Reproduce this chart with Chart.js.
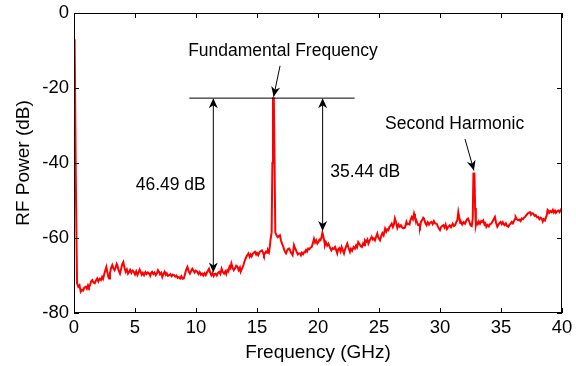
<!DOCTYPE html>
<html>
<head>
<meta charset="utf-8">
<script src="https://cdn.jsdelivr.net/npm/chart.js@4/dist/chart.umd.min.js"></script>
<style>
  html, body { margin: 0; padding: 0; background: #fff; }
  #wrap { width: 576px; height: 366px; }
</style>
</head>
<body>
<div id="wrap"><canvas id="specChart" width="576" height="366"></canvas></div>
<script>
/* ---- spectrum data ---- */
const freqGHz = [
  0.05, 0.15, 0.25, 0.35, 0.45, 0.55, 0.65, 0.75, 0.85, 0.96,
  1.05, 1.15, 1.22, 1.31, 1.4, 1.5, 1.6, 1.7, 1.8, 1.9,
  2.0, 2.1, 2.2, 2.3, 2.38, 2.46, 2.55, 2.65, 2.72, 2.8,
  2.87, 2.95, 3.05, 3.14, 3.23, 3.33, 3.42, 3.5, 3.55, 3.65,
  3.77, 3.86, 3.95, 4.04, 4.12, 4.23, 4.33, 4.42, 4.5, 4.6,
  4.7, 4.8, 4.9, 5.0, 5.1, 5.2, 5.3, 5.38, 5.46, 5.55,
  5.64, 5.74, 5.85, 5.95, 6.05, 6.15, 6.25, 6.32, 6.4, 6.5,
  6.6, 6.7, 6.8, 6.88, 6.97, 7.05, 7.15, 7.24, 7.33, 7.43,
  7.52, 7.6, 7.7, 7.8, 7.9, 8.0, 8.1, 8.2, 8.3, 8.4,
  8.5, 8.6, 8.7, 8.8, 8.9, 9.0, 9.1, 9.2, 9.3, 9.4,
  9.5, 9.6, 9.7, 9.78, 9.88, 9.98, 10.1, 10.2, 10.3, 10.4,
  10.5, 10.6, 10.7, 10.8, 10.9, 11.0, 11.07, 11.17, 11.26, 11.35,
  11.45, 11.52, 11.6, 11.7, 11.8, 11.9, 12.0, 12.1, 12.2, 12.3,
  12.4, 12.48, 12.57, 12.65, 12.75, 12.83, 12.9, 13.0, 13.1, 13.2,
  13.3, 13.4, 13.5, 13.6, 13.66, 13.75, 13.85, 14.0, 14.1, 14.2,
  14.3, 14.4, 14.48, 14.56, 14.65, 14.75, 14.84, 14.93, 15.0, 15.1,
  15.2, 15.3, 15.4, 15.5, 15.57, 15.65, 15.75, 15.83, 15.9, 15.98,
  16.05, 16.12, 16.2, 16.26, 16.31, 16.38, 16.44, 16.5, 16.6, 16.7,
  16.8, 16.88, 16.96, 17.05, 17.16, 17.25, 17.32, 17.38, 17.47, 17.56,
  17.65, 17.75, 17.84, 17.92, 18.03, 18.13, 18.25, 18.35, 18.43, 18.52,
  18.6, 18.68, 18.78, 18.86, 18.93, 19.02, 19.1, 19.2, 19.3, 19.38,
  19.48, 19.57, 19.67, 19.76, 19.85, 19.95, 20.05, 20.12, 20.2, 20.28,
  20.36, 20.44, 20.5, 20.57, 20.65, 20.75, 20.85, 20.95, 21.03, 21.1,
  21.2, 21.3, 21.4, 21.5, 21.58, 21.66, 21.75, 21.85, 21.94, 22.03,
  22.13, 22.22, 22.3, 22.4, 22.5, 22.62, 22.7, 22.8, 22.92, 23.03,
  23.12, 23.2, 23.3, 23.4, 23.5, 23.6, 23.7, 23.78, 23.85, 23.95,
  24.05, 24.13, 24.22, 24.32, 24.4, 24.5, 24.58, 24.67, 24.77, 24.86,
  24.95, 25.08, 25.18, 25.28, 25.38, 25.5, 25.6, 25.68, 25.77, 25.86,
  25.95, 26.04, 26.14, 26.22, 26.3, 26.4, 26.5, 26.6, 26.7, 26.8,
  26.9, 27.0, 27.13, 27.25, 27.32, 27.4, 27.5, 27.58, 27.68, 27.78,
  27.87, 27.95, 28.03, 28.1, 28.2, 28.28, 28.36, 28.45, 28.55, 28.63,
  28.69, 28.8, 28.9, 29.0, 29.1, 29.2, 29.3, 29.4, 29.5, 29.6,
  29.73, 29.82, 29.9, 30.0, 30.1, 30.18, 30.27, 30.37, 30.46, 30.57,
  30.68, 30.8, 30.9, 31.04, 31.14, 31.23, 31.32, 31.42, 31.5, 31.58,
  31.66, 31.72, 31.82, 31.93, 32.05, 32.15, 32.22, 32.3, 32.4, 32.5,
  32.6, 32.68, 32.74, 32.82, 32.88, 32.94, 33.0, 33.1, 33.18, 33.28,
  33.38, 33.46, 33.55, 33.65, 33.72, 33.8, 33.9, 34.0, 34.1, 34.2,
  34.3, 34.4, 34.5, 34.6, 34.7, 34.8, 34.88, 34.97, 35.06, 35.15,
  35.23, 35.3, 35.4, 35.5, 35.6, 35.7, 35.78, 35.87, 35.97, 36.07,
  36.15, 36.2, 36.3, 36.4, 36.5, 36.6, 36.69, 36.8, 36.88, 36.96,
  37.05, 37.15, 37.25, 37.37, 37.46, 37.55, 37.65, 37.75, 37.85, 37.95,
  38.05, 38.15, 38.25, 38.33, 38.42, 38.5, 38.6, 38.68, 38.75, 38.82,
  38.88, 38.95, 39.05, 39.15, 39.25, 39.33, 39.42, 39.5, 39.6, 39.7,
  39.8, 39.9, 39.97
];
const powerDb = [
  -7, -45, -72.1, -73.0, -72.6, -74.3, -73.8, -74.0, -73.2, -73.0,
  -73.5, -72.6, -73.1, -72.6, -71.6, -71.2, -71.9, -72.1, -71.3, -70.8,
  -71.6, -70.9, -71.2, -70.4, -70.9, -69.9, -68.8, -67.7, -68.9, -70.2,
  -70.8, -69.3, -67.9, -67.2, -68.1, -68.6, -67.8, -66.9, -67.2, -68.6,
  -69.5, -68.3, -67.0, -66.4, -67.7, -69.0, -68.4, -69.5, -69.1, -68.5,
  -69.3, -68.7, -69.0, -69.7, -68.9, -69.9, -69.2, -68.4, -69.0, -69.8,
  -69.3, -69.9, -69.1, -69.6, -69.2, -69.5, -70.1, -69.3, -69.0, -69.6,
  -69.2, -69.9, -69.4, -68.6, -69.0, -69.7, -69.3, -70.4, -69.6, -69.0,
  -69.8, -69.4, -70.1, -69.9, -69.6, -70.2, -69.8, -69.9, -70.3, -70.0,
  -70.6, -70.4, -70.8, -70.2, -70.9, -70.8, -69.6, -68.4, -67.7, -68.9,
  -69.5, -68.8, -68.2, -68.6, -69.2, -68.7, -69.0, -69.6, -69.1, -69.8,
  -69.5, -70.0, -69.4, -69.9, -69.2, -68.6, -68.2, -69.3, -69.9, -69.3,
  -70.1, -69.6, -69.5, -70.0, -69.3, -69.0, -69.6, -68.2, -69.1, -69.5,
  -68.9, -69.6, -68.6, -68.9, -67.6, -68.0, -66.8, -67.9, -68.6, -68.1,
  -67.4, -67.7, -68.6, -67.9, -69.0, -68.3, -67.6, -66.0, -65.2, -64.6,
  -64.1, -65.0, -64.4, -64.9, -64.2, -63.9, -63.7, -64.4, -64.0, -64.6,
  -63.8, -63.5, -63.3, -63.9, -64.6, -64.1, -63.6, -63.9, -63.3, -63.8,
  -62.3, -60.2, -58.5, -40, -22.7, -22.7, -40, -58.5, -59.3, -59.8,
  -59.5, -59.3, -60.6, -61.5, -62.4, -63.3, -63.8, -64.1, -63.3, -62.9,
  -62.8, -63.7, -64.2, -64.6, -61.9, -62.8, -63.7, -64.4, -64.1, -64.1,
  -64.6, -63.9, -64.3, -63.8, -63.7, -63.2, -63.6, -62.8, -63.0, -62.6,
  -62.4, -61.5, -60.2, -61.2, -60.6, -61.5, -61.0, -60.4, -60.6, -59.9,
  -58.6, -59.6, -60.6, -61.9, -61.2, -62.0, -61.5, -62.3, -62.9, -63.3,
  -62.7, -62.9, -62.4, -63.3, -64.1, -63.0, -62.7, -63.6, -62.4, -63.2,
  -64.1, -63.0, -62.3, -61.5, -62.6, -63.7, -62.9, -63.4, -62.4, -62.8,
  -62.0, -62.5, -61.1, -61.6, -62.2, -62.4, -61.4, -61.9, -60.6, -61.0,
  -60.4, -61.5, -60.8, -60.2, -59.7, -60.4, -60.1, -60.6, -59.6, -58.8,
  -59.9, -60.6, -59.5, -58.7, -59.3, -57.5, -58.3, -57.7, -57.9, -57.0,
  -56.7, -56.2, -57.1, -56.4, -54.8, -55.9, -57.3, -56.4, -57.0, -56.6,
  -57.2, -57.4, -57.2, -55.7, -56.3, -56.2, -56.4, -55.2, -54.4, -55.0,
  -53.5, -54.6, -55.0, -55.7, -56.5, -56.4, -57.0, -55.6, -55.2, -54.6,
  -54.8, -56.0, -56.6, -55.8, -56.4, -55.9, -55.7, -56.3, -55.5, -56.1,
  -56.2, -56.9, -57.4, -57.9, -57.0, -56.8, -56.6, -57.2, -56.4, -57.6,
  -57.0, -56.6, -57.1, -56.2, -56.8, -56.6, -55.9, -55.2, -53.1, -54.6,
  -56.0, -55.7, -56.4, -55.8, -56.2, -55.4, -55.0, -54.8, -55.6, -56.6,
  -56.8, -55.0, -42.8, -42.8, -52, -56.6, -55.7, -56.3, -55.6, -56.2,
  -55.5, -55.7, -55.3, -56.4, -56.1, -57.0, -56.5, -56.9, -56.3, -56.2,
  -55.6, -55.0, -54.4, -56.0, -57.0, -56.4, -56.0, -55.7, -56.3, -55.8,
  -56.4, -56.6, -56.1, -56.8, -57.0, -56.4, -56.2, -55.7, -56.1, -55.4,
  -54.9, -54.4, -55.0, -55.3, -55.1, -55.5, -54.8, -55.0, -54.6, -54.4,
  -54.0, -53.6, -53.3, -53.1, -53.8, -53.4, -53.5, -54.1, -53.9, -54.5,
  -54.4, -55.0, -54.6, -54.8, -55.6, -55.0, -55.3, -54.5, -54.0, -52.5,
  -52.7, -53.3, -52.8, -53.1, -52.5, -53.2, -52.7, -53.3, -52.9, -52.7,
  -53.1, -52.4, -52.2
];

/* ---- axis ticks ---- */
const xTicks = [0, 5, 10, 15, 20, 25, 30, 35, 40];
const yTicks = [-80, -60, -40, -20, 0];

/* ---- annotations (data units) ---- */
const refLine = [9.45, 23.0, -22.7];           // x start, x end, level
const arrowFund = [11.42, -22.7, -69.19];      // x, top, bottom  -> 46.49 dB
const arrowSpur = [20.38, -22.7, -58.14];      // x, top, bottom  -> 35.44 dB
const labelTexts = ["46.49 dB", "35.44 dB", "Fundamental Frequency", "Second Harmonic"];
const labelPos = [[10.8, -45.8], [21.0, -42.4], [17.13, -10.3], [31.2, -29.7]];
const pointerFund = [16.89, -14.1, 16.36, -22.3];
const pointerHarm = [32.05, -33.6, 32.78, -42.0];

const FONT = "'Liberation Sans', Arial, Helvetica, sans-serif";

function drawArrowHead(ctx, x1, y1, x2, y2) {
  // filled head at (x2,y2) pointing away from (x1,y1)
  const ang = Math.atan2(y2 - y1, x2 - x1);
  const len = 10, half = 4.5, notch = 7;
  ctx.beginPath();
  ctx.moveTo(x2, y2);
  ctx.lineTo(x2 - len * Math.cos(ang) + half * Math.sin(ang), y2 - len * Math.sin(ang) - half * Math.cos(ang));
  ctx.lineTo(x2 - notch * Math.cos(ang), y2 - notch * Math.sin(ang));
  ctx.lineTo(x2 - len * Math.cos(ang) - half * Math.sin(ang), y2 - len * Math.sin(ang) + half * Math.cos(ang));
  ctx.closePath();
  ctx.fill();
}

const matlabFrame = {
  id: "matlabFrame",
  afterDatasetsDraw(chart) {
    const { ctx, chartArea: a, scales: { x, y } } = chart;
    ctx.save();
    ctx.strokeStyle = "#000";
    ctx.fillStyle = "#000";
    ctx.lineWidth = 1;

    // box + inward ticks
    ctx.strokeRect(a.left + 0.5, a.top + 0.5, a.right - a.left - 1, a.bottom - a.top - 1);
    ctx.beginPath();
    xTicks.forEach(v => {
      const px = Math.round(x.getPixelForValue(v)) + 0.5;
      ctx.moveTo(px, a.bottom); ctx.lineTo(px, a.bottom - 5);
      ctx.moveTo(px, a.top); ctx.lineTo(px, a.top + 5);
    });
    yTicks.forEach(v => {
      const py = Math.round(y.getPixelForValue(v)) + 0.5;
      ctx.moveTo(a.left, py); ctx.lineTo(a.left + 5, py);
      ctx.moveTo(a.right, py); ctx.lineTo(a.right - 5, py);
    });
    ctx.stroke();

    // reference line
    ctx.beginPath();
    const ry = y.getPixelForValue(refLine[2]);
    ctx.moveTo(x.getPixelForValue(refLine[0]), ry);
    ctx.lineTo(x.getPixelForValue(refLine[1]), ry);
    ctx.stroke();

    // double arrows
    [arrowFund, arrowSpur].forEach(ar => {
      const px = x.getPixelForValue(ar[0]);
      const t = y.getPixelForValue(ar[1]);
      const b = y.getPixelForValue(ar[2]);
      ctx.beginPath();
      ctx.moveTo(px, t + 4); ctx.lineTo(px, b - 4);
      ctx.stroke();
      drawArrowHead(ctx, px, b, px, t);
      drawArrowHead(ctx, px, t, px, b);
    });

    // pointer arrows
    [pointerFund, pointerHarm].forEach(p => {
      const x1 = x.getPixelForValue(p[0]), y1 = y.getPixelForValue(p[1]);
      const x2 = x.getPixelForValue(p[2]), y2 = y.getPixelForValue(p[3]);
      ctx.beginPath();
      ctx.moveTo(x1, y1); ctx.lineTo(x2, y2);
      ctx.stroke();
      drawArrowHead(ctx, x1, y1, x2, y2);
    });

    // labels
    ctx.font = "17.5px " + FONT;
    ctx.textBaseline = "middle";
    const aligns = ["right", "left", "center", "center"];
    labelTexts.forEach((t, i) => {
      ctx.textAlign = aligns[i];
      ctx.fillText(t, x.getPixelForValue(labelPos[i][0]), y.getPixelForValue(labelPos[i][1]));
    });
    ctx.restore();
  }
};

const specCtx = document.getElementById("specChart");

if (specCtx) {
  new Chart(specCtx, {
    type: "line",
    data: {
      datasets: [
        {
          data: freqGHz.map((f, i) => ({ x: f, y: powerDb[i] })),
          borderColor: "#ff0000",
          borderWidth: 2,
          pointRadius: 0,
          tension: 0,
          fill: false
        }
      ]
    },
    options: {
      responsive: false,
      animation: false,
      layout: { padding: { top: 13, right: 14, left: 0, bottom: 0 } },
      plugins: {
        legend: { display: false },
        tooltip: { enabled: false }
      },
      scales: {
        x: {
          type: "linear",
          min: 0,
          max: 40,
          afterBuildTicks: s => { s.ticks = xTicks.map(v => ({ value: v })); },
          afterFit: s => { s.height = 53; s.paddingLeft = 0; s.paddingRight = 0; },
          grid: { display: false, drawTicks: false, tickLength: 0 },
          border: { display: false },
          ticks: { color: "#000", font: { family: FONT, size: 18.5 }, padding: 4, maxRotation: 0 },
          title: { display: true, text: "Frequency (GHz)", color: "#000", font: { family: FONT, size: 19 }, padding: { top: 0, bottom: 2 } }
        },
        y: {
          min: -80,
          max: 0,
          afterBuildTicks: s => { s.ticks = yTicks.map(v => ({ value: v })); },
          afterFit: s => { s.width = 74; s.paddingTop = 0; s.paddingBottom = 0; },
          grid: { display: false, drawTicks: false, tickLength: 0 },
          border: { display: false },
          ticks: { color: "#000", font: { family: FONT, size: 18.5 }, padding: 5 },
          title: { display: true, text: "RF Power (dB)", color: "#000", font: { family: FONT, size: 19 }, padding: { top: 12, bottom: 0 } }
        }
      }
    },
    plugins: [matlabFrame]
  });
}
</script>
</body>
</html>
